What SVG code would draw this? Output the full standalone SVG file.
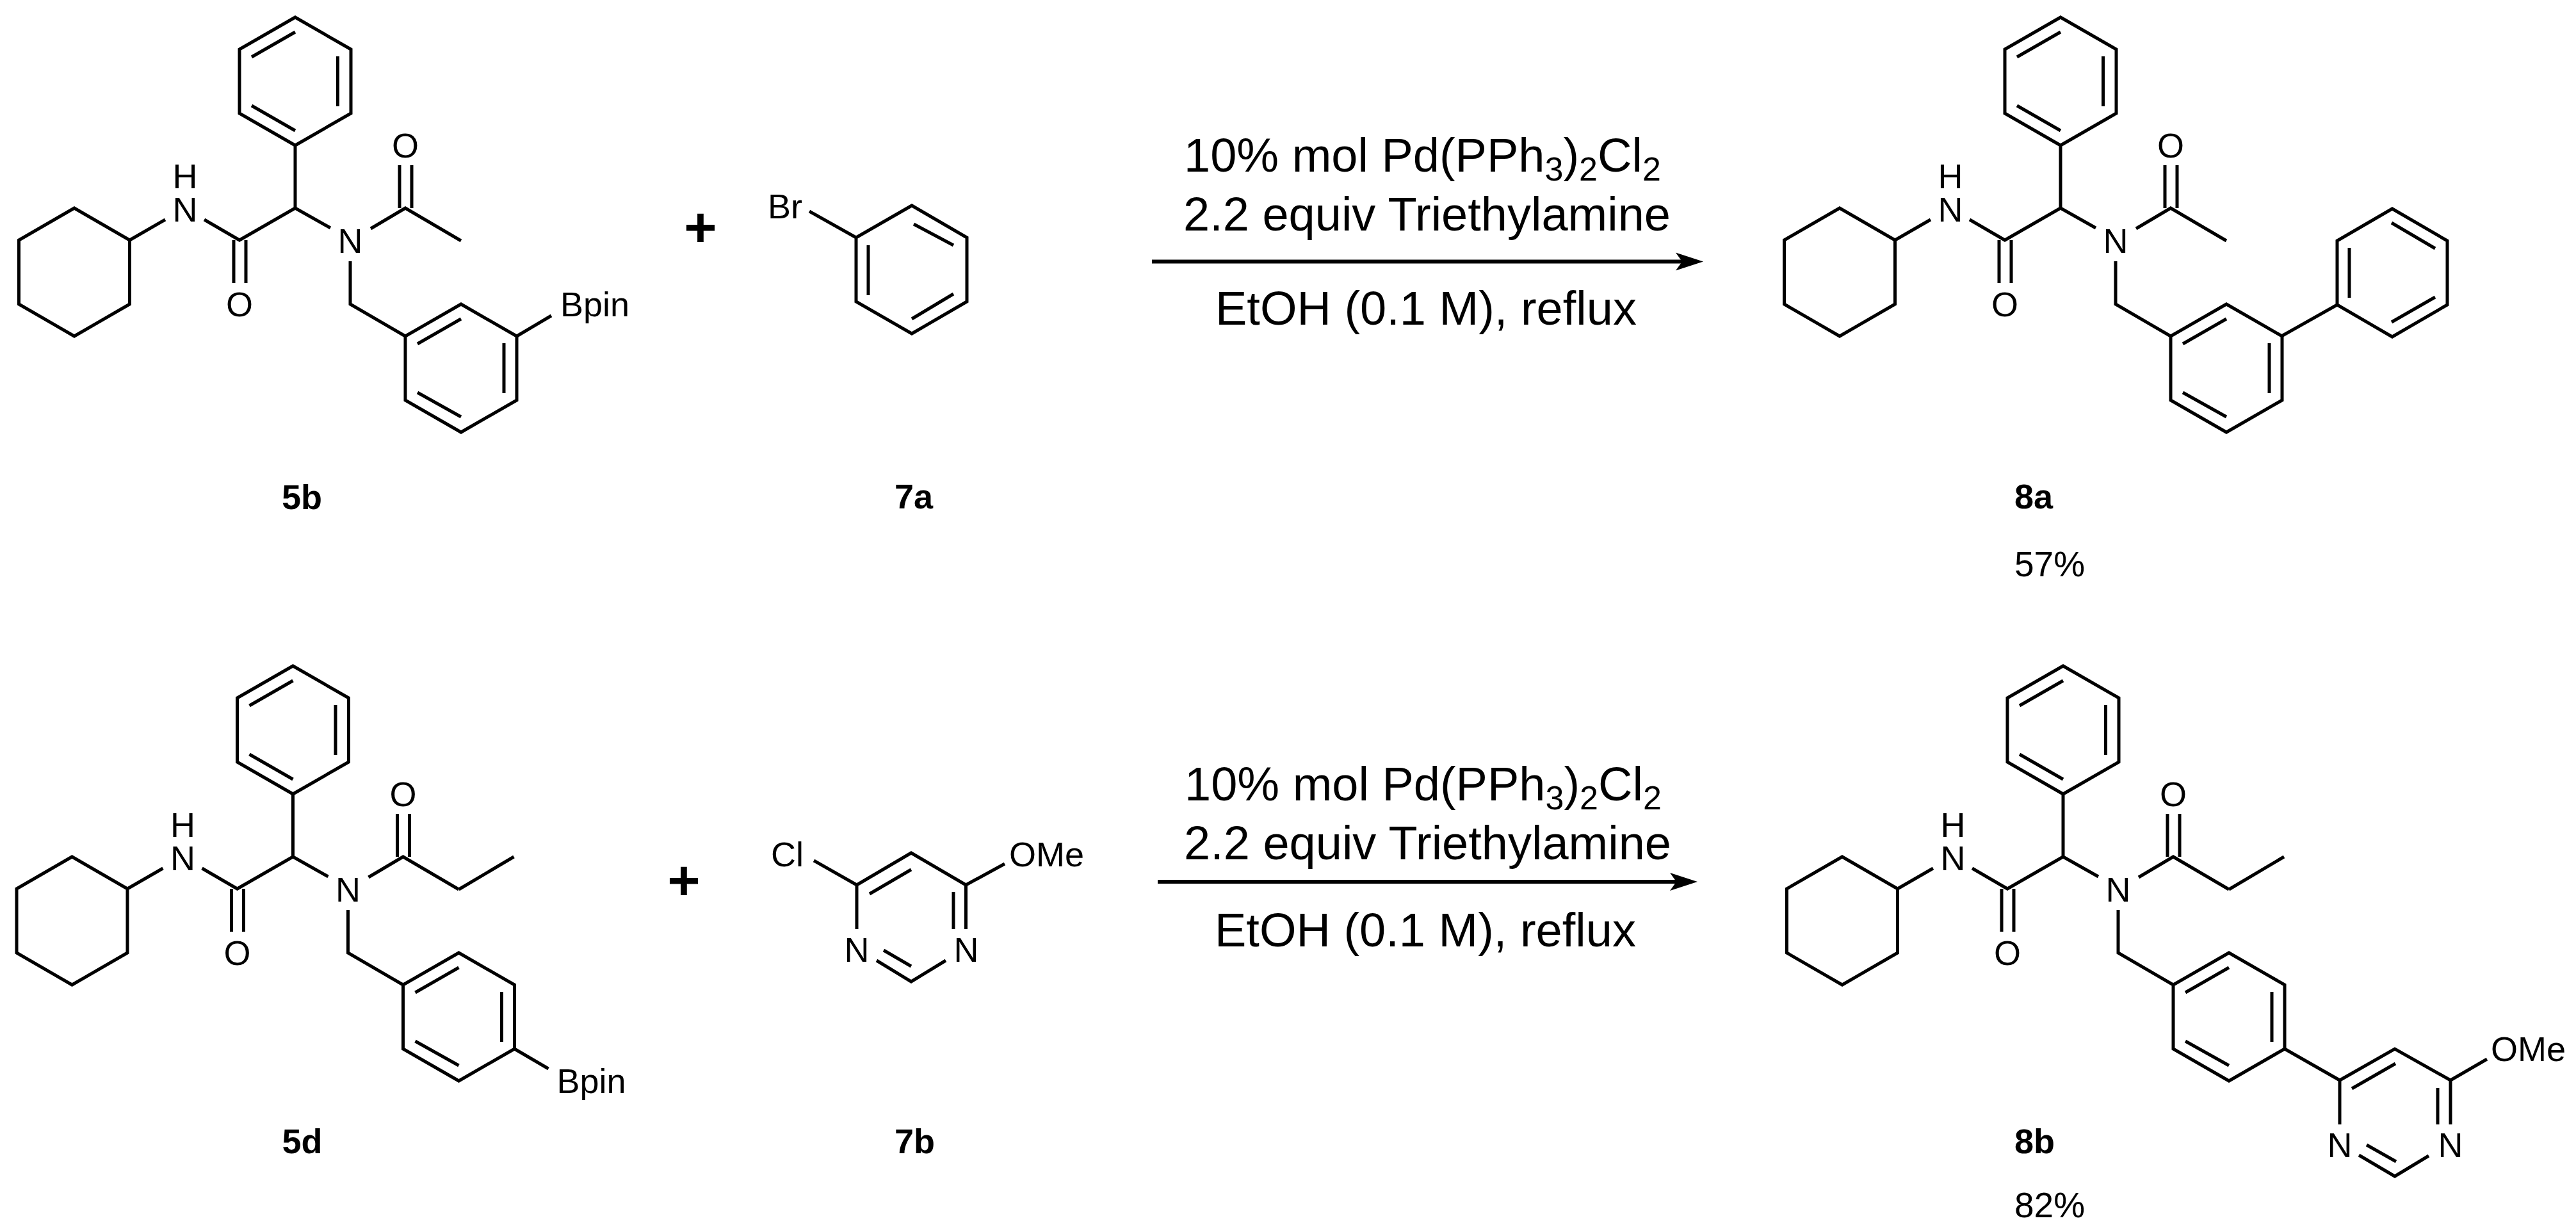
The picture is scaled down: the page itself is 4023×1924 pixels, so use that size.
<svg xmlns="http://www.w3.org/2000/svg" xmlns:xlink="http://www.w3.org/1999/xlink" width="4023" height="1924" viewBox="0 0 4023 1924">
<style>
text{font-family:"Liberation Sans",Arial,sans-serif;fill:#000}
.a{font-size:54px}
.m{font-size:54px;text-anchor:middle}
.b{font-size:54px;font-weight:700}
.y{font-size:55px}
.r{font-size:74px}
.s{font-size:52px}
.p{font-size:88px;font-weight:700;text-anchor:middle}
.l{fill:none;stroke:#000;stroke-width:5;stroke-linejoin:miter;stroke-linecap:butt}
.w{fill:none;stroke:#000;stroke-width:6}
</style>
<defs>
<path id="scaffold" class="l" d="M116 325L202.500 375V475L116 525L29.500 475V375ZM202.500 375L258 343M319 343L374 375L461 325V227M461 27L548 77V177L461 227L374 177V77ZM393 89L461 50M527.500 88V166M393 165L461 204M365 375V442M384 375V442M461 325L516 356M579 357L633 325L720 376M624 258V325M643 258V325M547 408V475L633 525M633 525L720 475L807 525V625L720 675L633 625ZM652 537L720 498M787 536V614M652 613L720 651"/>
<path id="head" d="M0 0L-43 -14L-33 0L-43 14Z"/>
</defs>
<g id="mol-5b">
<use href="#scaffold" xlink:href="#scaffold"/>
<path class="l" d="M807 525L861 493"/>
<text class="m" x="289" y="294">H</text><text class="m" x="289" y="346">N</text><text class="m" x="374" y="494">O</text><text class="m" x="633" y="246">O</text><text class="m" x="547" y="395">N</text>
<text class="a" x="875" y="494">Bpin</text>
<text class="b" x="440" y="795">5b</text>
</g>
<g id="plus-1"><text class="p" x="1094" y="385">+</text></g>
<g id="mol-7a">
<path class="l" d="M1424 321L1510 371V471L1424 521L1337 471V371ZM1337 371L1264 330M1427 350L1489 383M1356 383V461M1424 498L1489 459"/>
<text class="a" x="1199" y="341">Br</text>
<text class="b" x="1397" y="794">7a</text>
</g>
<g id="reagents-1">
<text class="r" x="1849" y="268">10% mol Pd(PPh<tspan class="s" dy="14">3</tspan><tspan dy="-14">)</tspan><tspan class="s" dy="14">2</tspan><tspan dy="-14">Cl</tspan><tspan class="s" dy="14">2</tspan></text>
<text class="r" x="1848" y="360">2.2 equiv Triethylamine</text>
<text class="r" x="1898" y="507">EtOH (0.1 M), reflux</text>
</g>
<g id="mol-8a" transform="translate(2757 0)">
<use href="#scaffold" xlink:href="#scaffold"/>
<path class="l" d="M806 525L893 476M893 476V376L979 326L1065 376V476L979 526ZM978 348L1046 388M1046 464L978 503M912 387V465"/>
<text class="m" x="289" y="294">H</text><text class="m" x="289" y="346">N</text><text class="m" x="374" y="494">O</text><text class="m" x="633" y="246">O</text><text class="m" x="547" y="395">N</text>
<text class="b" x="389" y="794">8a</text>
<text class="y" x="389" y="900">57%</text>
</g>
<g id="mol-5d" transform="translate(-3.500 1013)">
<use href="#scaffold" xlink:href="#scaffold"/>
<path class="l" d="M720 376L806 325M807 625L860 656"/>
<text class="m" x="289" y="294">H</text><text class="m" x="289" y="346">N</text><text class="m" x="374" y="494">O</text><text class="m" x="633" y="246">O</text><text class="m" x="547" y="395">N</text>
<text class="a" x="873" y="694">Bpin</text>
<text class="b" x="444" y="788">5d</text>
</g>
<g id="plus-2"><text class="p" x="1068" y="1405">+</text></g>
<g id="mol-7b">
<path class="l" d="M1338 1451V1382L1423 1332L1508.500 1382V1451M1489 1393V1451M1358 1396L1423 1358M1338 1382L1271 1344M1508.500 1382L1569 1349M1369 1500L1423 1533L1477 1500M1380 1484L1423 1509"/>
<text class="a" x="1204" y="1353">Cl</text><text class="a" x="1576" y="1353">OMe</text>
<text class="m" x="1338" y="1502">N</text><text class="m" x="1509" y="1502">N</text>
<text class="b" x="1397" y="1801">7b</text>
</g>
<g id="reagents-2">
<text class="r" x="1850" y="1250">10% mol Pd(PPh<tspan class="s" dy="14">3</tspan><tspan dy="-14">)</tspan><tspan class="s" dy="14">2</tspan><tspan dy="-14">Cl</tspan><tspan class="s" dy="14">2</tspan></text>
<text class="r" x="1849" y="1342">2.2 equiv Triethylamine</text>
<text class="r" x="1897" y="1478">EtOH (0.1 M), reflux</text>
</g>
<g id="mol-8b" transform="translate(2761 1013)">
<use href="#scaffold" xlink:href="#scaffold"/>
<path class="l" d="M720 376L806 325M807 625L893 674L979 625L1066 674V743M893 674V743M1046 686V743M912 687L980 648M1066 674L1123 641M923 791L979 824L1032 792M935 775L981 801"/>
<text class="m" x="289" y="294">H</text><text class="m" x="289" y="346">N</text><text class="m" x="374" y="494">O</text><text class="m" x="633" y="246">O</text><text class="m" x="547" y="395">N</text>
<text class="m" x="893" y="794">N</text><text class="m" x="1066" y="794">N</text>
<text class="a" x="1129" y="644">OMe</text>
<text class="b" x="385" y="788">8b</text>
<text class="y" x="385" y="888">82%</text>
</g>
<g id="connectors">
<path class="w" d="M1799 408.500H2630"/><use href="#head" xlink:href="#head" transform="translate(2660 408.500)"/>
<path class="w" d="M1808 1377H2622"/><use href="#head" xlink:href="#head" transform="translate(2651 1377)"/>
</g>
</svg>
